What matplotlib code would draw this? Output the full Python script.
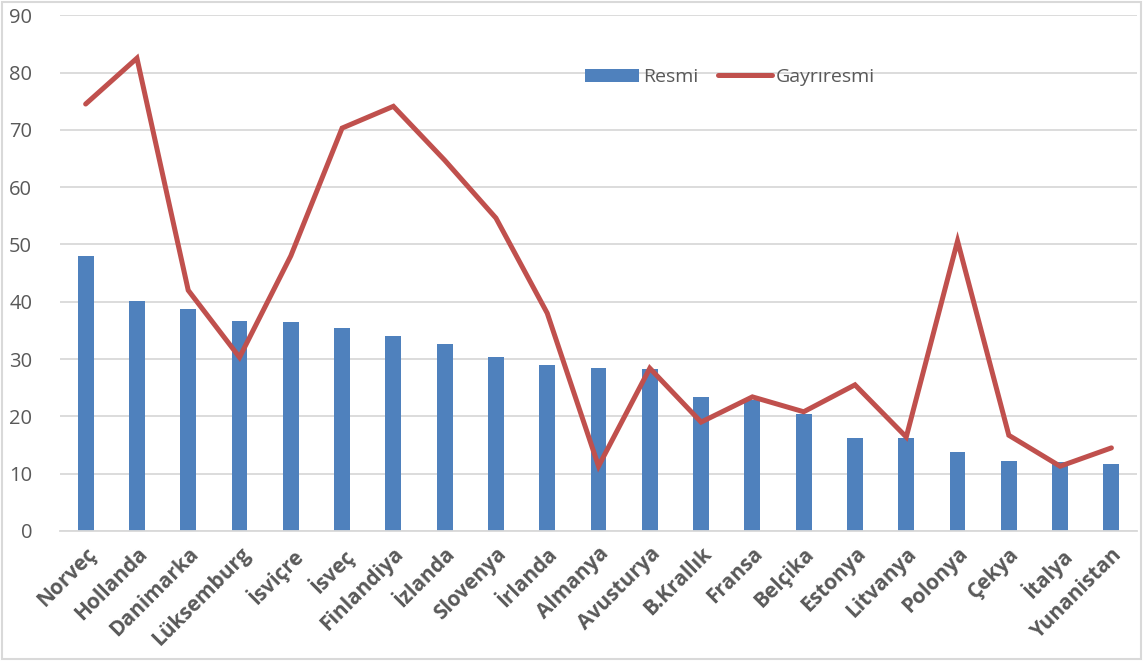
import matplotlib.pyplot as plt
import numpy as np
from matplotlib.patches import Rectangle

# veriler
ulkeler = ["Norveç", "Hollanda", "Danimarka", "Lüksemburg", "İsviçre", "İsveç",
           "Finlandiya", "İzlanda", "Slovenya", "İrlanda", "Almanya", "Avusturya",
           "B.Krallık", "Fransa", "Belçika", "Estonya", "Litvanya", "Polonya",
           "Çekya", "İtalya", "Yunanistan"]
resmi = [48.0, 40.2, 38.7, 36.6, 36.4, 35.5, 34.1, 32.7, 30.3, 28.9, 28.5, 28.2,
         23.3, 22.9, 20.4, 16.3, 16.2, 13.8, 12.2, 12.0, 11.7]
gayriresmi = [74.5, 82.5, 42.0, 30.3, 48.0, 70.3, 74.1, 64.7, 54.6, 38.0, 11.3, 28.4,
              19.0, 23.4, 20.8, 25.5, 16.4, 50.6, 16.7, 11.3, 14.5]

plt.rcParams['font.family'] = ['Open Sans', 'DejaVu Sans']
text_color = "#595959"

fig = plt.figure(figsize=(11.43, 6.61), dpi=100)
ax = fig.add_axes([0.0525, 0.1967, 0.9423, 0.7803])

x = np.arange(len(ulkeler))
bars = ax.bar(x, resmi, width=0.31, color="#4F81BD", label="Resmi", zorder=2)
line, = ax.plot(x, gayriresmi, color="#C0504D", linewidth=3.6, label="Gayrıresmi",
                solid_joinstyle="miter", solid_capstyle="round", zorder=3)

ax.set_xlim(-0.5, len(ulkeler) - 0.5)
ax.set_ylim(0, 90)
ax.set_yticks(range(0, 91, 10))
ax.yaxis.grid(True, color="#D9D9D9", linewidth=1.3, zorder=0)
ax.set_axisbelow(True)
for s in ["top", "right", "left"]:
    ax.spines[s].set_visible(False)
ax.spines["bottom"].set_color("#D9D9D9")
ax.spines["bottom"].set_linewidth(1.3)
ax.tick_params(axis="both", length=0, colors=text_color, labelsize=14.5)
ax.tick_params(axis="y", pad=20)
ax.tick_params(axis="x", pad=9)

ax.set_xticks(x)
ax.set_xticklabels(ulkeler, rotation=45, ha="right", rotation_mode="anchor",
                   fontweight="bold", fontsize=15, color=text_color)

leg = ax.legend([bars, line], ["Resmi", "Gayrıresmi"], loc="center",
                bbox_to_anchor=(0.622, 0.88), ncol=2, frameon=False,
                fontsize=14, handlelength=2.8, handleheight=0.65,
                columnspacing=1.0, handletextpad=0.2)
for t in leg.get_texts():
    t.set_color(text_color)

# dış çerçeve
fig.patches.append(Rectangle((0.002, 0.003), 0.996, 0.994, transform=fig.transFigure,
                             fill=False, edgecolor="#D9D9D9", linewidth=1.5))

plt.savefig("out.png", dpi=100)
